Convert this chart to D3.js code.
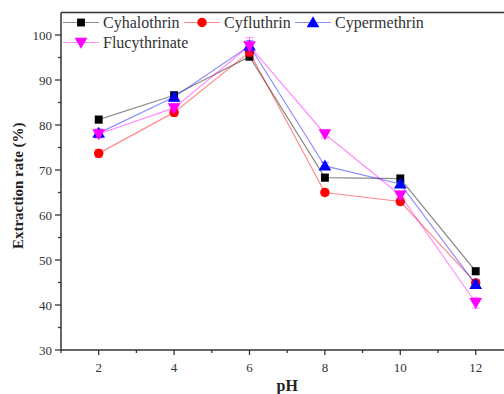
<!DOCTYPE html>
<html>
<head>
<meta charset="utf-8">
<script src="https://cdn.jsdelivr.net/npm/d3@7"></script>
<style>
  html, body { margin: 0; padding: 0; background: #fff; }
  svg { display: block; }
</style>
</head>
<body>
<svg id="chart" width="504" height="394"></svg>
<script>
// Extraction rate (%) of four pyrethroids across sample pH
const phValues = [2, 4, 6, 8, 10, 12];
const seriesNames = ["Cyhalothrin", "Cyfluthrin", "Cypermethrin", "Flucythrinate"];
const cyhalothrin   = [81.2, 86.6, 95.2, 68.3, 68.1, 47.5];
const cyfluthrin    = [73.7, 82.8, 96.2, 65.0, 63.0, 44.9];
const cypermethrin  = [78.2, 86.2, 97.6, 70.9, 66.9, 44.6];
const flucythrinate = [78.0, 83.8, 97.6, 78.0, 64.4, 40.5];
const errCyhalothrin   = [0.8, 0.8, 0.8, 0.8, 0.8, 0.8];
const errCyfluthrin    = [0.9, 0.9, 0.9, 0.7, 0.8, 0.8];
const errCypermethrin  = [0.9, 0.9, 1.2, 0.8, 0.8, 0.9];
const errFlucythrinate = [0.9, 0.9, 1.8, 0.9, 0.9, 1.2];
const xTicks = [2, 4, 6, 8, 10, 12];
const yTicks = [30, 40, 50, 60, 70, 80, 90, 100];

const FONT = "'Liberation Serif', 'Times New Roman', serif";
const colors = ["#000000", "#ff0000", "#0000ff", "#ff00ff"];
const symbols = [d3.symbolSquare, d3.symbolCircle, d3.symbolTriangle, "down"];
const seriesValues = [cyhalothrin, cyfluthrin, cypermethrin, flucythrinate];
const seriesErr = [errCyhalothrin, errCyfluthrin, errCypermethrin, errFlucythrinate];

const svg = d3.select("#chart");
const x = d3.scaleLinear().domain([1, 13]).range([61, 513.4]);
const y = d3.scaleLinear().domain([30, 105]).range([350, 12.5]);

const axisColor = "#333";

// frame (top edge runs off the right side)
svg.append("line").attr("x1", x(1)).attr("x2", x(13)).attr("y1", y(105)).attr("y2", y(105))
  .attr("stroke", axisColor).attr("stroke-width", 1.5);

// x axis
const gx = svg.append("g").attr("transform", `translate(0,${y(30)})`);
gx.append("line").attr("x1", x(1)).attr("x2", x(13)).attr("stroke", axisColor).attr("stroke-width", 1.5);
gx.selectAll(".minor").data(d3.range(1, 14)).join("line")
  .attr("x1", d => x(d)).attr("x2", d => x(d)).attr("y1", 0)
  .attr("y2", d => xTicks.includes(d) ? 5 : 3)
  .attr("stroke", axisColor).attr("stroke-width", 1.3);
gx.selectAll(".lbl").data(xTicks).join("text")
  .attr("x", d => x(d)).attr("y", 22).attr("text-anchor", "middle")
  .attr("font-family", FONT).attr("fill", "#333")
  .attr("font-size", 13).text(d => d);

// y axis
const gy = svg.append("g").attr("transform", `translate(${x(1)},0)`);
gy.append("line").attr("y1", y(30)).attr("y2", y(105)).attr("stroke", axisColor).attr("stroke-width", 1.5);
gy.selectAll(".tk").data(d3.range(30, 105, 5)).join("line")
  .attr("y1", d => y(d)).attr("y2", d => y(d)).attr("x1", 0)
  .attr("x2", d => d % 10 === 0 ? -6 : -3)
  .attr("stroke", axisColor).attr("stroke-width", 1.3);
gy.selectAll(".lbl").data(yTicks).join("text")
  .attr("x", -9).attr("y", d => y(d) + 4.5).attr("text-anchor", "end")
  .attr("font-family", FONT).attr("fill", "#333")
  .attr("font-size", 13).text(d => d);

// axis titles
svg.append("text").attr("transform", `translate(23,${y(66.5)}) rotate(-90)`)
  .attr("text-anchor", "middle").attr("font-size", 15).attr("font-weight", "bold")
  .attr("font-family", FONT).attr("fill", "#222").text("Extraction rate (%)");
svg.append("text").attr("x", x(7)).attr("y", 391).attr("text-anchor", "middle")
  .attr("font-family", FONT)
  .attr("font-size", 16).attr("font-weight", "bold").attr("fill", "#222").text("pH");

function symbolPath(i, size) {
  if (symbols[i] === "down") {
    return d3.symbol().type(d3.symbolTriangle).size(size)();
  }
  return d3.symbol().type(symbols[i]).size(size)();
}
const symSize = [62, 70, 70, 70];

const line = d3.line().x((d, i) => x(phValues[i])).y(d => y(d));

seriesValues.forEach((vals, s) => {
  const g = svg.append("g");
  g.append("path").attr("d", line(vals)).attr("fill", "none")
    .attr("stroke", colors[s]).attr("stroke-opacity", 0.45).attr("stroke-width", 1.2);
  // error bars
  const eb = g.selectAll(".eb").data(vals).join("g");
  eb.append("line").attr("x1", (d, i) => x(phValues[i])).attr("x2", (d, i) => x(phValues[i]))
    .attr("y1", (d, i) => y(d - seriesErr[s][i])).attr("y2", (d, i) => y(d + seriesErr[s][i]))
    .attr("stroke", colors[s]).attr("stroke-opacity", 0.45).attr("stroke-width", 1);
  [-1, 1].forEach(sign => {
    eb.append("line").attr("x1", (d, i) => x(phValues[i]) - 4).attr("x2", (d, i) => x(phValues[i]) + 4)
      .attr("y1", (d, i) => y(d + sign * seriesErr[s][i])).attr("y2", (d, i) => y(d + sign * seriesErr[s][i]))
      .attr("stroke", colors[s]).attr("stroke-opacity", 0.45).attr("stroke-width", 1);
  });
  g.selectAll(".pt").data(vals).join("path")
    .attr("d", symbolPath(s, symSize[s]))
    .attr("transform", (d, i) => `translate(${x(phValues[i])},${y(d) + (s === 2 ? 1 : s === 3 ? -1 : 0)})${symbols[s] === "down" ? " rotate(180)" : ""}`)
    .attr("fill", colors[s]);
});

// legend
const legendPos = [[63, 22.5], [184, 22.5], [295, 22.5], [63, 42.5]];
seriesNames.forEach((name, s) => {
  const [lx, ly] = legendPos[s];
  const g = svg.append("g").attr("transform", `translate(${lx},${ly})`);
  g.append("line").attr("x1", 0).attr("x2", 36).attr("stroke", colors[s])
    .attr("stroke-opacity", 0.45).attr("stroke-width", 1.2);
  g.append("path").attr("d", symbolPath(s, symSize[s]))
    .attr("transform", `translate(18,${s === 2 ? 1 : s === 3 ? -1 : 0})${symbols[s] === "down" ? " rotate(180)" : ""}`)
    .attr("fill", colors[s]);
  g.append("text").attr("x", 40).attr("y", 5.5).attr("font-size", 16)
    .attr("font-family", FONT).attr("fill", "#333").text(name);
});
</script>
</body>
</html>
